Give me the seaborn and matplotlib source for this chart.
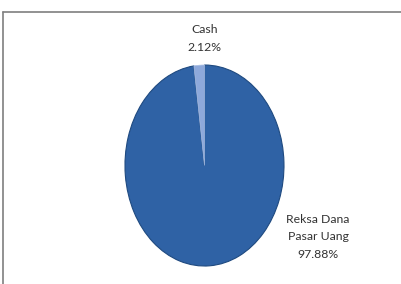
import matplotlib
matplotlib.use("Agg")
import matplotlib.pyplot as plt
import seaborn as sns
from matplotlib.lines import Line2D

categories = ["Reksa Dana\nPasar Uang", "Cash"]
values = [97.88, 2.12]
colors = ["#2F62A5", "#8EA9DB"]

sns.set_theme(style="white")
plt.rcParams['font.family'] = ['Lato', 'DejaVu Sans']

fig = plt.figure(figsize=(4.01, 2.84), dpi=100)
ax = fig.add_axes([0, 0, 1, 1])
wedges, _ = ax.pie(values, colors=colors, startangle=90, counterclock=False,
                   radius=1, center=(0, 0),
                   wedgeprops=dict(edgecolor="#1F4A80", linewidth=0.8))
wedges[1].set_edgecolor("#A9BEE4")
wedges[1].set_linewidth(0.5)
ax.set_aspect('auto')
ax.set_xlim(-2.572, 2.472)
ax.set_ylim(-1.179, 1.647)
ax.axis('off')

# labels
ax.text(0.0, 1.264, f"{categories[1]}\n{values[1]:.2f}%", ha="center", va="center",
        fontsize=8.8, color="#333333", linespacing=1.75)
ax.text(1.43, -0.711, f"{categories[0]}\n{values[0]:.2f}%", ha="center", va="center",
        fontsize=8.8, color="#333333", linespacing=1.75)

# frame lines
fig.add_artist(Line2D([3.5/401, 1.0], [1 - 11.5/284, 1 - 11.5/284],
                      transform=fig.transFigure, color="#7F7F7F", linewidth=1.2))
fig.add_artist(Line2D([3.5/401, 3.5/401], [0, 1 - 11.5/284],
                      transform=fig.transFigure, color="#7F7F7F", linewidth=1.2))

fig.savefig("out.png", dpi=100)
